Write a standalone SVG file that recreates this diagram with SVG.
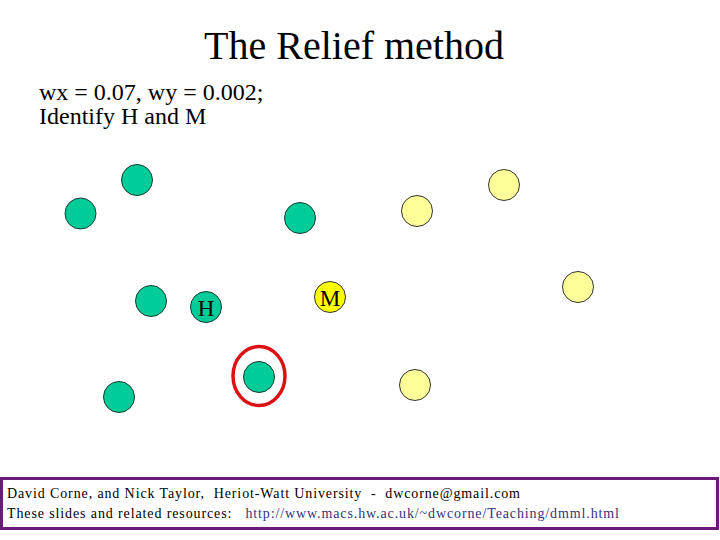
<svg xmlns="http://www.w3.org/2000/svg" width="720" height="540" viewBox="0 0 720 540">
<style>
text{font-family:"Liberation Serif","Times New Roman",serif;fill:#000}
.g{fill:#00cc99;stroke:#1a3a30;stroke-width:1}
.y{fill:#ffff99;stroke:#333;stroke-width:1}
.m{fill:#ffff00;stroke:#333;stroke-width:1}
.f{font-size:14px;white-space:pre}
</style>
<rect width="720" height="540" fill="#fff"/>
<text x="354" y="59" font-size="40" text-anchor="middle">The Relief method</text>
<text x="39" y="100" font-size="24">wx = 0.07, wy = 0.002;</text>
<text x="39" y="124" font-size="24">Identify H and M</text>
<g id="n1"><circle class="g" cx="137" cy="180" r="15.5"/></g>
<g id="n2"><circle class="g" cx="80.5" cy="213.5" r="15.5"/></g>
<g id="n3"><circle class="g" cx="300" cy="218" r="15.5"/></g>
<g id="n4"><circle class="g" cx="151" cy="301" r="15.5"/></g>
<g id="H"><circle class="g" cx="206" cy="307" r="15.5"/><text x="206" y="316" font-size="23" text-anchor="middle">H</text></g>
<g id="M"><circle class="m" cx="330" cy="297" r="15.5"/><text x="330" y="306" font-size="23" text-anchor="middle">M</text></g>
<g id="n5"><circle class="g" cx="259" cy="377" r="15.5"/><ellipse cx="259" cy="376" rx="26" ry="29.5" fill="none" stroke="#dd1111" stroke-width="3.5"/></g>
<g id="n6"><circle class="g" cx="119" cy="397" r="15.5"/></g>
<g id="y1"><circle class="y" cx="417" cy="211" r="15.5"/></g>
<g id="y2"><circle class="y" cx="504" cy="185" r="15.5"/></g>
<g id="y3"><circle class="y" cx="578" cy="287" r="15.5"/></g>
<g id="y4"><circle class="y" cx="415" cy="385" r="15.5"/></g>
<g id="connectors"></g>
<rect x="1.5" y="478.5" width="716" height="50" fill="#fff" stroke="#6b1a7a" stroke-width="3"/>
<text class="f" x="7" y="498" textLength="513" lengthAdjust="spacing">David Corne, and Nick Taylor,  Heriot-Watt University  -  dwcorne@gmail.com</text>
<text class="f" x="7" y="518" textLength="612" lengthAdjust="spacing">These slides and related resources:   <tspan fill="#333380">http://www.macs.hw.ac.uk/~dwcorne/Teaching/dmml.html</tspan></text>
</svg>
